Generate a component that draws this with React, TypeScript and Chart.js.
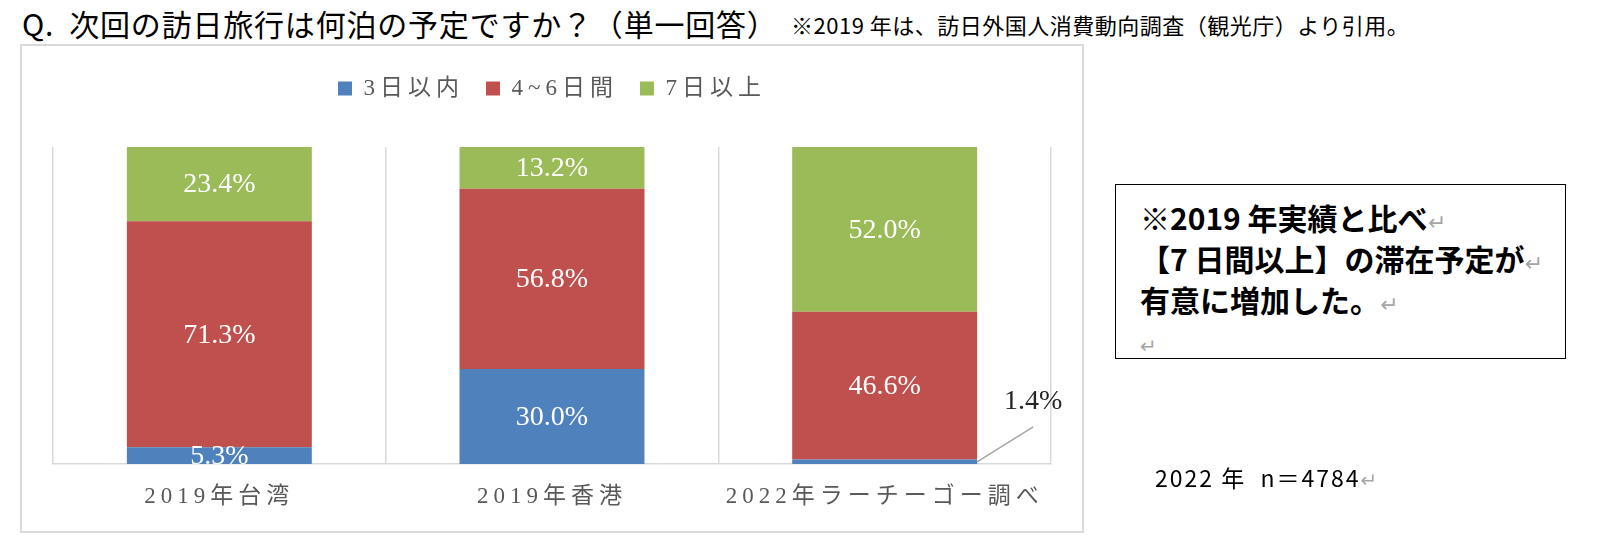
import React, { useEffect, useRef } from 'react';
import { Chart, registerables } from 'chart.js';

Chart.register(...registerables);

// ---------- data ----------
const categories = ['2019年台湾', '2019年香港', '2022年ラーチーゴー調べ'];
const seriesNames = ['3日以内', '4~6日間', '7日以上'];
const within3Days = [5.3, 30.0, 1.4];
const days4to6 = [71.3, 56.8, 46.6];
const days7plus = [23.4, 13.2, 52.0];
const seriesColors = ['#4f81bd', '#c0504d', '#9bbb59'];

const titleText = 'Q.  次回の訪日旅行は何泊の予定ですか？（単一回答）';
const noteText = '※2019 年は、訪日外国人消費動向調査（観光庁）より引用。';
const boxLines = ['※2019 年実績と比べ', '【7 日間以上】の滞在予定が', '有意に増加した。', ''];
const sampleText = '2022 年  n＝4784';

const CHART_FONT = "'Liberation Serif', 'Noto Sans CJK JP', serif";
const SANS = "'Noto Sans CJK JP', 'Noto Sans', sans-serif";

const letterSpacingPlugin = {
  id: 'letterSpacing',
  beforeLayout(chart: any) {
    chart.ctx.letterSpacing = '5px';
  },
  beforeDraw(chart: any) {
    chart.ctx.letterSpacing = '5px';
  },
};

const segmentLabelPlugin = {
  id: 'segmentLabels',
  afterDatasetsDraw(chart: any) {
    const ctx = chart.ctx;
    const area = chart.chartArea;
    ctx.save();
    ctx.letterSpacing = '0px';
    ctx.font = `28px 'Liberation Serif', serif`;
    ctx.textAlign = 'center';
    ctx.textBaseline = 'middle';
    chart.data.datasets.forEach((ds: any, di: number) => {
      const meta = chart.getDatasetMeta(di);
      meta.data.forEach((el: any, i: number) => {
        const v = ds.data[i] as number;
        const text = v.toFixed(1) + '%';
        const { x, y, base, width } = el.getProps(['x', 'y', 'base', 'width'], true);
        const cy = (y + base) / 2;
        if (v >= 3) {
          ctx.save();
          ctx.beginPath();
          ctx.rect(area.left, area.top, area.right - area.left, area.bottom - area.top);
          ctx.clip();
          ctx.fillStyle = '#ffffff';
          ctx.fillText(text, x, cy + 1);
          ctx.restore();
        } else {
          const rx = x + width / 2;
          ctx.strokeStyle = '#a6a6a6';
          ctx.lineWidth = 1.5;
          ctx.beginPath();
          ctx.moveTo(rx, cy);
          ctx.lineTo(rx + 56, cy - 35);
          ctx.stroke();
          ctx.fillStyle = '#262626';
          ctx.fillText(text, rx + 56, cy - 60);
        }
      });
    });
    ctx.restore();
  },
};

function StackedChart() {
  const ref = useRef<HTMLCanvasElement | null>(null);
  useEffect(() => {
    if (!ref.current) return;
    const chart = new Chart(ref.current, {
      type: 'bar',
      data: {
        labels: categories,
        datasets: [
          { label: seriesNames[0], data: within3Days, backgroundColor: seriesColors[0], borderWidth: 0 },
          { label: seriesNames[1], data: days4to6, backgroundColor: seriesColors[1], borderWidth: 0 },
          { label: seriesNames[2], data: days7plus, backgroundColor: seriesColors[2], borderWidth: 0 },
        ],
      },
      options: {
        responsive: false,
        animation: false,
        events: [],
        devicePixelRatio: 1,
        layout: { padding: { left: 53, right: 549, top: 55, bottom: 31 } },
        datasets: {
          bar: { categoryPercentage: 1, barPercentage: 0.556 },
        },
        scales: {
          x: {
            stacked: true,
            afterFit: (s: any) => {
              s.height = 60;
            },
            grid: {
              display: true,
              drawOnChartArea: true,
              drawTicks: false,
              offset: true,
              color: '#d9d9d9',
              lineWidth: 1.5,
            },
            border: { display: true, color: '#d9d9d9', width: 1.5 },
            ticks: {
              autoSkip: false,
              maxRotation: 0,
              minRotation: 0,
              padding: 19,
              color: '#595959',
              font: { family: CHART_FONT, size: 23 },
            },
          },
          y: {
            stacked: true,
            display: false,
            min: 0,
            max: 100,
          },
        },
        plugins: {
          tooltip: { enabled: false },
          legend: {
            display: true,
            position: 'top',
            weight: 1000,
            labels: {
              boxWidth: 14,
              boxHeight: 14,
              padding: 22,
              color: '#595959',
              font: { family: CHART_FONT, size: 23 },
            },
          } as any,
          title: {
            display: true,
            text: '',
            position: 'top',
            padding: 0,
            font: { size: 37, lineHeight: 1 },
            weight: 500,
          } as any,
        },
      },
      plugins: [letterSpacingPlugin, segmentLabelPlugin],
    } as any);
    return () => chart.destroy();
  }, []);
  return (
    <canvas
      ref={ref}
      width={1600}
      height={555}
      style={{ position: 'absolute', left: 0, top: 0, width: 1600, height: 555 }}
    />
  );
}

const arrow = (size: number) => (
  <span style={{ color: '#a6a6a6', fontWeight: 400, fontSize: size, fontFamily: "'DejaVu Sans', sans-serif" }}>↵</span>
);

export default function App() {
  return (
    <div
      style={{
        position: 'absolute',
        left: 0,
        top: 0,
        width: 1600,
        height: 555,
        background: '#ffffff',
        overflow: 'hidden',
        fontFamily: SANS,
      }}
    >
      <div
        style={{
          position: 'absolute',
          left: 22,
          top: 5,
          fontSize: 30,
          lineHeight: '36px',
          letterSpacing: 0.8,
          whiteSpace: 'pre',
          color: '#000',
        }}
      >
        {titleText}
      </div>
      <div
        style={{
          position: 'absolute',
          left: 791,
          top: 9,
          fontSize: 22,
          lineHeight: '30px',
          letterSpacing: 0.5,
          whiteSpace: 'pre',
          color: '#000',
        }}
      >
        {noteText}
      </div>
      <div
        style={{
          position: 'absolute',
          left: 20,
          top: 44,
          width: 1064,
          height: 489,
          border: '2px solid #d9d9d9',
          boxSizing: 'border-box',
          background: '#fff',
        }}
      />
      <StackedChart />
      <div
        style={{
          position: 'absolute',
          left: 1115,
          top: 184,
          width: 451,
          height: 175,
          border: '1.5px solid #000',
          boxSizing: 'border-box',
          background: '#fff',
          paddingLeft: 24,
          paddingTop: 12,
          fontSize: 30,
          fontWeight: 700,
          lineHeight: '41px',
          color: '#000',
          whiteSpace: 'pre',
        }}
      >
        {boxLines.map((line, i) => (
          <div key={i} style={{ height: 41 }}>
            {line}
            {arrow(i === boxLines.length - 1 ? 20 : 22)}
          </div>
        ))}
      </div>
      <div
        style={{
          position: 'absolute',
          left: 1155,
          top: 462,
          fontSize: 23,
          lineHeight: '30px',
          letterSpacing: 2,
          whiteSpace: 'pre',
          color: '#000',
        }}
      >
        {sampleText}
        {arrow(20)}
      </div>
    </div>
  );
}
